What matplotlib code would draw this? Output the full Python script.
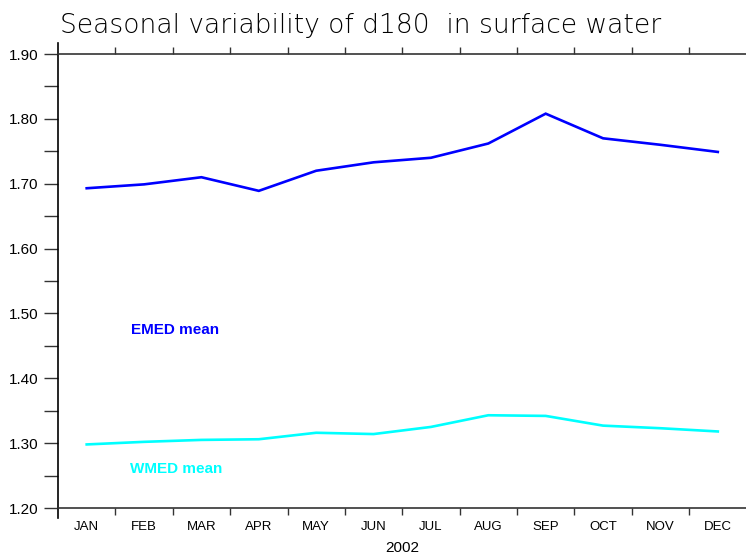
import matplotlib
matplotlib.use('Agg')

import matplotlib.pyplot as plt
from matplotlib.ticker import FixedLocator, NullFormatter

months = ['JAN', 'FEB', 'MAR', 'APR', 'MAY', 'JUN',
          'JUL', 'AUG', 'SEP', 'OCT', 'NOV', 'DEC']
emed = [1.693, 1.699, 1.710, 1.689, 1.720, 1.733,
        1.740, 1.762, 1.808, 1.770, 1.760, 1.749]
wmed = [1.298, 1.302, 1.305, 1.306, 1.316, 1.314,
        1.325, 1.343, 1.342, 1.327, 1.323, 1.318]
yticks = [1.20, 1.30, 1.40, 1.50, 1.60, 1.70, 1.80, 1.90]

plt.rcParams['font.family'] = ['Liberation Sans', 'DejaVu Sans']

fig = plt.figure(figsize=(7.46, 5.58), dpi=100)
ax = fig.add_axes([58 / 746, 50 / 558, 688.5 / 746, 454 / 558])

# months drawn at mid-month, ticks on month boundaries
xs = [i + 0.5 for i in range(12)]
ax.plot(xs, emed, color='#0000ff', lw=1.9, solid_joinstyle='miter')
ax.plot(xs, wmed, color='#00ffff', lw=1.9, solid_joinstyle='miter')

ax.set_xlim(0, 12)
ax.set_ylim(1.20, 1.90)

ax.text(1.27, 1.475, 'EMED mean', color='#0000ff', fontsize=11,
        fontweight='bold', va='center')
ax.text(1.25, 1.260, 'WMED mean', color='#00ffff', fontsize=11,
        fontweight='bold', va='center')

# y axis: labelled ticks every 0.1, unlabelled ones in between
ax.set_yticks(yticks)
ax.set_yticklabels(['%.2f' % v for v in yticks])
ax.yaxis.set_minor_locator(FixedLocator([v + 0.05 for v in yticks[:-1]]))
ax.tick_params(axis='y', which='both', direction='out', length=10,
               width=1, labelsize=11, pad=4, color='#333333')

# x axis: month names centred, ticks between months
ax.xaxis.set_major_locator(FixedLocator(list(range(1, 12))))
ax.xaxis.set_major_formatter(NullFormatter())
ax.xaxis.set_minor_locator(FixedLocator(xs))
ax.set_xticklabels(months, minor=True)
ax.tick_params(axis='x', which='major', direction='out', length=5,
               width=1, top=True, bottom=True, color='#333333')
ax.tick_params(axis='x', which='minor', length=0, labelsize=9.5, pad=9)
ax.set_xlabel('2002', fontsize=11, labelpad=6)

for side in ['left', 'right']:
    ax.spines[side].set_visible(False)
for side in ['top', 'bottom']:
    ax.spines[side].set_linewidth(1.2)
    ax.spines[side].set_color('#333333')

# left axis line runs a little past the frame
ax.plot([0, 0], [-0.022, 1.024], transform=ax.transAxes, color='black',
        lw=1.2, clip_on=False)

fig.text(60 / 746, 1 - 25 / 558, 'Seasonal variability of d180  in surface water',
         fontsize=19.1, fontweight='light', va='center', ha='left',
         family=['DejaVu Sans'])

fig.savefig('out.png', dpi=100)
